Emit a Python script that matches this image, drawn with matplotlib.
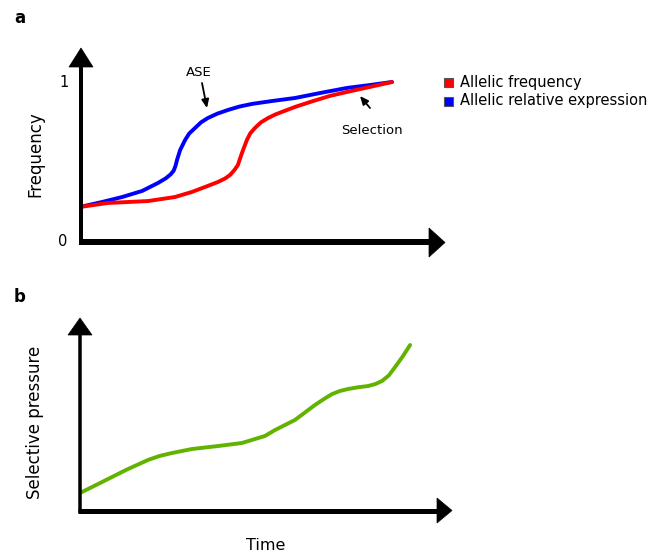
import matplotlib
matplotlib.use("Agg")
import matplotlib.pyplot as plt
from matplotlib.patches import Polygon, Rectangle

# ---------------- data ----------------
# panel a: time (arbitrary units 0..100) and frequency (0..1)
time_expr = [0, 7.05, 13.5, 19.9, 25.0, 27.5, 29.0, 30.0, 30.6, 31.1, 32.1, 33.7,
             35.0, 36.9, 38.8, 41.0, 44.0, 47.4, 51.0, 55.1, 61.5, 68.9, 76.9,
             85.6, 92.9, 100]
allelic_expr = [0.219, 0.25, 0.281, 0.319, 0.369, 0.398, 0.422, 0.445, 0.475, 0.513,
                0.575, 0.638, 0.678, 0.713, 0.748, 0.775, 0.802, 0.825, 0.846, 0.863,
                0.881, 0.9, 0.931, 0.963, 0.981, 1.0]
time_freq = [0, 9.0, 21.8, 30.4, 35.9, 40.1, 44.2, 46.5, 48.1, 49.5, 50.6, 51.9,
             53.5, 54.6, 56.1, 58.0, 60.3, 62.5, 64.7, 68.9, 74.7, 80.1, 85.6,
             92.9, 100]
allelic_freq = [0.219, 0.244, 0.256, 0.281, 0.313, 0.344, 0.375, 0.397, 0.419, 0.45,
                0.481, 0.556, 0.638, 0.68, 0.713, 0.748, 0.775, 0.796, 0.813, 0.844,
                0.881, 0.913, 0.938, 0.969, 1.0]
# panel b: selective pressure over time
time_press = [0, 7.05, 14.7, 21.8, 25.5, 29.5, 35.9, 44.2, 51.9, 56.1, 59.3, 62.5,
              68.9, 75.3, 78.2, 80.8, 83.3, 85.9, 89.0, 92.3, 94.6, 96.8, 99.0,
              101.0, 103.4, 105.8]
pressure = [0.1125, 0.181, 0.256, 0.319, 0.344, 0.3625, 0.3875, 0.406, 0.425, 0.45,
            0.469, 0.506, 0.569, 0.6625, 0.70, 0.731, 0.750, 0.7625, 0.773, 0.781,
            0.793, 0.8125, 0.848, 0.9, 0.965, 1.0375]

legend_labels = ["Allelic frequency", "Allelic relative expression"]
ytick_labels = ["0", "1"]

RED = "#ff0000"
BLUE = "#0000ff"
GREEN = "#62b300"

W, H = 650, 557
fig = plt.figure(figsize=(W / 100, H / 100), dpi=100)


def fx(x):
    return x / W


def fy(y):
    return 1 - y / H


def make_axes(x0, x1, y0, y1, xscale, yscale):
    ax = fig.add_axes([fx(x0), fy(y0), (x1 - x0) / W, (y0 - y1) / H])
    ax.set_xlim(0, (x1 - x0) / xscale)
    ax.set_ylim(0, (y0 - y1) / yscale)
    ax.axis("off")
    return ax


def poly_fig(pts, color="black"):
    fig.patches.append(Polygon([(fx(x), fy(y)) for x, y in pts], closed=True,
                               transform=fig.transFigure, facecolor=color,
                               edgecolor=color, lw=0.5))


def line_fig(x0, y0, x1, y1, lw_px, color="black"):
    fig.add_artist(plt.Line2D([fx(x0), fx(x1)], [fy(y0), fy(y1)], lw=lw_px * 0.72,
                              color=color, transform=fig.transFigure,
                              solid_capstyle="butt"))


LINE_KW = dict(lw=2.8, solid_capstyle="round", solid_joinstyle="round")

# ---------------- panel a ----------------
axA = make_axes(80, 450, 242, 45, 3.12, 160)
axA.plot(time_expr, allelic_expr, color=BLUE, zorder=3, **LINE_KW)
axA.plot(time_freq, allelic_freq, color=RED, zorder=4, **LINE_KW)

line_fig(81, 244, 81, 66, 4)
poly_fig([(69, 67), (93, 67), (81, 48)])
line_fig(79, 242, 430, 242, 6)
poly_fig([(429, 228), (429, 257), (445, 242.5)])

fig.text(fx(64), fy(82), ytick_labels[1], ha="center", va="center", fontsize=10.5)
fig.text(fx(63), fy(242), ytick_labels[0], ha="center", va="center", fontsize=10.5)
fig.text(fx(35), fy(154), "Frequency", rotation=90, ha="center", va="center",
         fontsize=12)
fig.text(fx(20), fy(18), "a", ha="center", va="center", fontsize=12, fontweight="bold")

fig.text(fx(199), fy(72), "ASE", ha="center", va="center", fontsize=9.5)
axA.annotate("", xy=((207 - 80) / 3.12, (242 - 108) / 160),
             xytext=((202 - 80) / 3.12, (242 - 83) / 160),
             arrowprops=dict(arrowstyle="-|>,head_length=0.5,head_width=0.22",
                             lw=1.3, color="black", shrinkA=0, shrinkB=0))
fig.text(fx(372), fy(130), "Selection", ha="center", va="center", fontsize=9.5)
axA.annotate("", xy=((360 - 80) / 3.12, (242 - 96) / 160),
             xytext=((370 - 80) / 3.12, (242 - 108) / 160),
             arrowprops=dict(arrowstyle="-|>,head_length=0.5,head_width=0.22",
                             lw=1.3, color="black", shrinkA=0, shrinkB=0))

for (ly, col, lab) in [(82, RED, legend_labels[0]), (101, BLUE, legend_labels[1])]:
    fig.patches.append(Rectangle((fx(444), fy(ly + 5)), 9 / W, 9 / H,
                                 transform=fig.transFigure, facecolor=col,
                                 edgecolor="#555555", lw=0.8))
    fig.text(fx(460), fy(ly), lab, ha="left", va="center", fontsize=10.5)

# ---------------- panel b ----------------
axB = make_axes(80, 455, 511, 310, 3.12, 160)
axB.plot(time_press, pressure, color=GREEN, zorder=3, **LINE_KW)

line_fig(80, 513, 80, 334, 3.5)
poly_fig([(68, 335), (92, 335), (80, 318)])
line_fig(78, 510.5, 438, 510.5, 5)
poly_fig([(437, 498), (437, 523), (452, 510.5)])

fig.text(fx(35), fy(422), "Selective pressure", rotation=90, ha="center", va="center",
         fontsize=12)
fig.text(fx(266), fy(546), "Time", ha="center", va="center", fontsize=11.5)
fig.text(fx(20), fy(297), "b", ha="center", va="center", fontsize=12, fontweight="bold")

fig.savefig("out.png", dpi=100)
